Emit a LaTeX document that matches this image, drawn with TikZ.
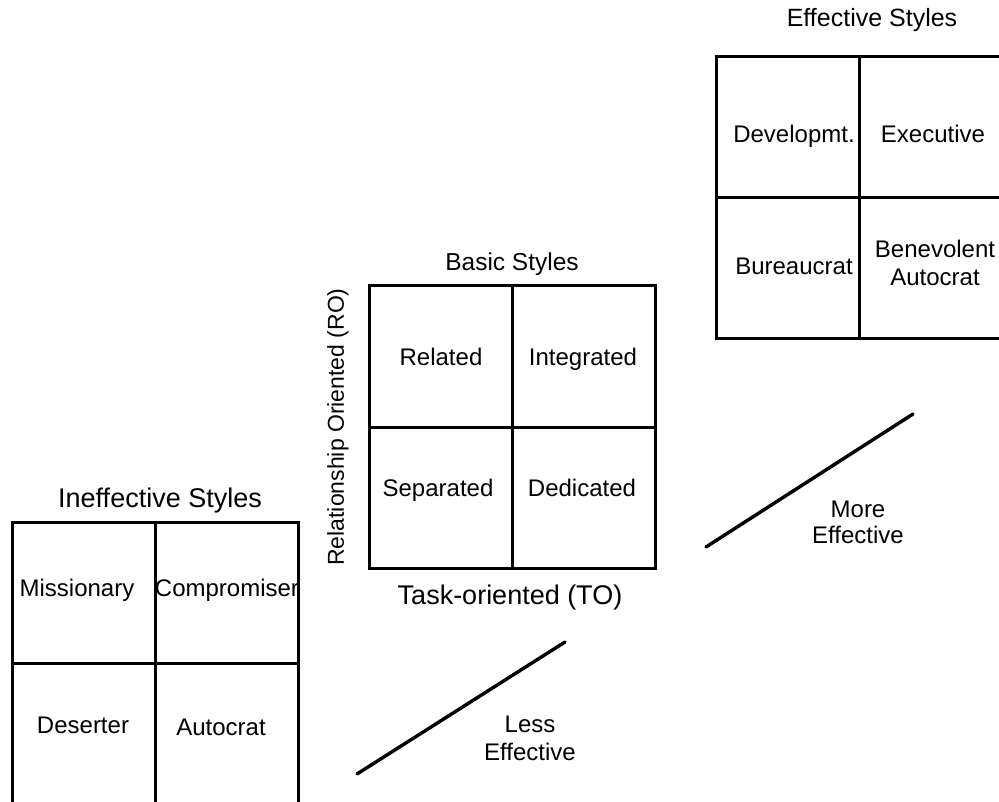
\documentclass[tikz,border=0pt]{standalone}
\usepackage{fontspec}
\setmainfont{Liberation Sans}
\usetikzlibrary{calc}

\begin{document}
\begin{tikzpicture}[x=1pt,y=-1pt,
		gridline/.style={line width=3pt},
		effline/.style={line width=3.4pt,line cap=round},
		celltxt/.style={font=\fontsize{24}{28}\selectfont,align=center,inner sep=0pt,anchor=base},
		headtxt/.style={font=\fontsize{25}{28}\selectfont,inner sep=0pt,anchor=base}]
			\useasboundingbox (0,0) rectangle (999,802);
			% the three grids
			\foreach \gx/\gy in {12/522,369/286,716/57}{
				\draw[gridline] (\gx,\gy) rectangle ++(286,282);
				\draw[gridline] (\gx+143,\gy)--++(0,282);
				\draw[gridline] (\gx,\gy+141)--++(286,0);
			}
			% ineffective
			\node[headtxt,font=\fontsize{27}{30}\selectfont] (ineff) at (160,507) {Ineffective Styles};
			\node[celltxt] (missionary) at (77,596) {Missionary};
			\node[celltxt] (compromiser) at (227,596) {Compromiser};
			\node[celltxt] (deserter) at (83,733) {Deserter};
			\node[celltxt] (autocrat) at (221,735) {Autocrat};
			% basic
			\node[headtxt,font=\fontsize{24.5}{28}\selectfont] (basic) at (512,271) {Basic Styles};
			\node[headtxt,font=\fontsize{27}{30}\selectfont] (taskor) at (510,604) {Task-oriented (TO)};
			\node[celltxt,font=\fontsize{23}{27}\selectfont,anchor=center,rotate=90] (relor) at (338,427) {Relationship Oriented (RO)};
			\node[celltxt] (related) at (441,366) {Related};
			\node[celltxt] (integrated) at (583,366) {Integrated};
			\node[celltxt] (separated) at (438,496) {Separated};
			\node[celltxt] (dedicated) at (582,496) {Dedicated};
			% effective
			\node[headtxt] (eff) at (872,27) {Effective Styles};
			\node[celltxt] (developmt) at (794,143) {Developmt.};
			\node[celltxt] (executive) at (933,143) {Executive};
			\node[celltxt] (bureaucrat) at (794,275) {Bureaucrat};
			\node[celltxt] (benevolent) at (935,286) {Benevolent\\Autocrat};
			% effectiveness lines
			\coordinate (less0) at (357,774);
			\coordinate (less1) at (565,642);
			\draw[effline] (less0)--(less1);
			\node[celltxt] (lesseff) at (530,760) {Less\\Effective};
			\coordinate (more0) at (706,547);
			\coordinate (more1) at (913,414);
			\draw[effline] (more0)--(more1);
			\node[celltxt,font=\fontsize{24}{26}\selectfont] (moreeff) at (858,543) {More\\Effective};
		\end{tikzpicture}
\end{document}
